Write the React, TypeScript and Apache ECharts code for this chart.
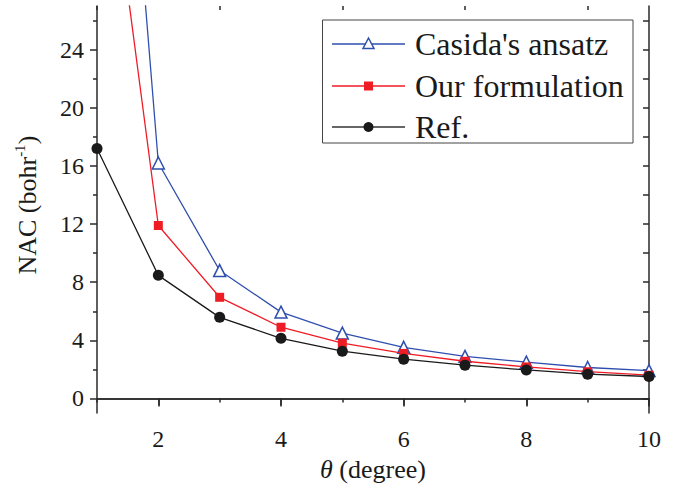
import React, { useEffect, useRef } from "react";
import * as echarts from "echarts";

const thetaValues = [1, 2, 3, 4, 5, 6, 7, 8, 9, 10];
const casidaValues = [68, 16.2, 8.8, 5.94, 4.5, 3.52, 2.9, 2.5, 2.13, 1.92];
const oursValues = [44, 11.9, 6.96, 4.9, 3.8, 3.1, 2.56, 2.17, 1.84, 1.6];
const refValues = [17.2, 8.47, 5.58, 4.14, 3.25, 2.7, 2.29, 1.96, 1.67, 1.51];

const seriesNames = ["Casida's ansatz", "Our formulation", "Ref."];
const xMajorTicks = [2, 4, 6, 8, 10];
const xMinorTicks = [1, 3, 5, 7, 9];
const yMajorTicks = [0, 4, 8, 12, 16, 20, 24];
const yMinorTicks = [2, 6, 10, 14, 18, 22, 26];
const yAllTicks = [0, 2, 4, 6, 8, 10, 12, 14, 16, 18, 20, 22, 24, 26];
const xTitle = "{i|θ}{a| (degree)}";
const yTitle = "{a|NAC (bohr}{s|-1}{a|)}";

const FONT = "Liberation Serif";
const AX = "#2a2a2a";
const BLUE = "#2f4fae";
const RED = "#ee1c25";
const BLACK = "#1a1a1a";
const X_MIN = 1, X_MAX = 10, Y_MIN = -1, Y_MAX = 27;

export default function App() {
  const ref = useRef<HTMLDivElement>(null);
  useEffect(() => {
    if (!ref.current) return;
    const chart = echarts.init(ref.current, null, { renderer: "svg" });
    const pairs = (vals: number[]) => thetaValues.map((t, i) => [t, vals[i]]);
    const axLine = () => ({ show: true, lineStyle: { color: AX, width: 1.5 } });
    const tickStyle = () => ({ color: AX, width: 1.5 });
    const gridRect = { left: 97, right: 27, top: 6, bottom: 74 };

    // legend drawn as graphic elements
    const rowY = [44, 86, 127];
    const lineColors = [BLUE, RED, "#333"];
    const lx1 = 332, lx2 = 405, lxc = 368.5, tx = 415;
    const legendEls: any[] = [
      {
        type: "rect", z: 100,
        shape: { x: 322.5, y: 20, width: 310.5, height: 123 },
        style: { fill: "#fff", stroke: "#444", lineWidth: 1 },
      },
    ];
    seriesNames.forEach((n, i) => {
      legendEls.push({
        type: "line", z: 101,
        shape: { x1: lx1, y1: rowY[i], x2: lx2, y2: rowY[i] },
        style: { stroke: lineColors[i], lineWidth: 1.3 },
      });
      legendEls.push({
        type: "text", z: 101, x: tx, y: rowY[i],
        style: { text: n, fontFamily: FONT, fontSize: 32, fill: BLACK, verticalAlign: "middle", align: "left" },
      });
    });
    legendEls.push({
      type: "polygon", z: 102,
      shape: { points: [[lxc, rowY[0] - 6], [lxc - 5.5, rowY[0] + 4.5], [lxc + 5.5, rowY[0] + 4.5]] },
      style: { fill: "#fff", stroke: BLUE, lineWidth: 1.5 },
    });
    legendEls.push({
      type: "rect", z: 102,
      shape: { x: lxc - 4.5, y: rowY[1] - 4.5, width: 9, height: 9 },
      style: { fill: RED },
    });
    legendEls.push({
      type: "circle", z: 102,
      shape: { cx: lxc, cy: rowY[2], r: 5 },
      style: { fill: BLACK },
    });

    const option: any = {
      animation: false,
      grid: [gridRect, { ...gridRect }],
      graphic: legendEls,
      xAxis: [
        {
          gridIndex: 0, type: "value", position: "bottom", min: X_MIN, max: X_MAX,
          axisLine: axLine(),
          axisTick: { show: true, customValues: xMajorTicks, length: 7, lineStyle: tickStyle() },
          axisLabel: { show: false },
          splitLine: { show: false },
        },
        {
          gridIndex: 0, type: "value", position: "top", min: X_MIN, max: X_MAX,
          axisLine: axLine(),
          axisTick: { show: true, inside: true, customValues: xMajorTicks, length: 8, lineStyle: tickStyle() },
          axisLabel: { show: false },
          splitLine: { show: false },
        },
        {
          gridIndex: 1, type: "value", position: "bottom", min: X_MIN, max: X_MAX,
          axisLine: { show: false },
          axisTick: { show: true, customValues: xMinorTicks, length: 4, lineStyle: tickStyle() },
          axisLabel: { show: false },
          splitLine: { show: false },
        },
        {
          gridIndex: 1, type: "value", position: "top", min: X_MIN, max: X_MAX,
          axisLine: { show: false },
          axisTick: { show: true, inside: true, customValues: xMinorTicks, length: 4, lineStyle: tickStyle() },
          axisLabel: { show: false },
          splitLine: { show: false },
        },
      ],
      yAxis: [
        {
          gridIndex: 0, type: "value", position: "left", min: Y_MIN, max: Y_MAX,
          axisLine: axLine(),
          axisTick: { show: true, customValues: yMajorTicks, length: 7, lineStyle: tickStyle() },
          axisLabel: { show: false },
          splitLine: { show: false },
        },
        {
          gridIndex: 0, type: "value", position: "right", min: Y_MIN, max: Y_MAX,
          axisLine: axLine(),
          axisTick: { show: true, inside: true, customValues: yAllTicks, length: 6, lineStyle: tickStyle() },
          axisLabel: { show: false },
          splitLine: { show: false },
        },
        {
          gridIndex: 1, type: "value", position: "left", min: Y_MIN, max: Y_MAX,
          axisLine: { show: false },
          axisTick: { show: true, customValues: yMinorTicks, length: 4, lineStyle: tickStyle() },
          axisLabel: { show: false },
          splitLine: { show: false },
        },
      ],
      series: [
        {
          name: seriesNames[0], type: "line", xAxisIndex: 0, yAxisIndex: 0, data: pairs(casidaValues),
          symbol: "triangle", symbolSize: 12, clip: true,
          lineStyle: { color: BLUE, width: 1.3 },
          itemStyle: { color: "#ffffff", borderColor: BLUE, borderWidth: 1.5 },
          z: 2,
        },
        {
          name: seriesNames[1], type: "line", xAxisIndex: 0, yAxisIndex: 0, data: pairs(oursValues),
          symbol: "rect", symbolSize: 9, clip: true,
          lineStyle: { color: RED, width: 1.3 },
          itemStyle: { color: RED },
          z: 3,
        },
        {
          name: seriesNames[2], type: "line", xAxisIndex: 0, yAxisIndex: 0, data: pairs(refValues),
          symbol: "circle", symbolSize: 11, clip: true,
          lineStyle: { color: BLACK, width: 1.3 },
          itemStyle: { color: BLACK },
          z: 4,
        },
      ],
    };
    chart.setOption(option);

    // Tick labels and axis titles placed through the chart's own scales
    const toPx = (x: number, y: number) =>
      chart.convertToPixel({ xAxisIndex: 0, yAxisIndex: 0 } as any, [x, y]) as number[];
    const labelEls: any[] = [];
    yMajorTicks.forEach((v) => {
      const p = toPx(X_MIN, v);
      labelEls.push({
        type: "text", z: 50, x: p[0] - 13, y: p[1],
        style: { text: String(v), fontFamily: FONT, fontSize: 24, fill: BLACK, align: "right", verticalAlign: "middle" },
      });
    });
    xMajorTicks.forEach((v) => {
      const p = toPx(v, Y_MIN);
      labelEls.push({
        type: "text", z: 50, x: p[0], y: p[1] + 14,
        style: { text: String(v), fontFamily: FONT, fontSize: 24, fill: BLACK, align: "center", verticalAlign: "top" },
      });
    });
    const xc = toPx((X_MIN + X_MAX) / 2, Y_MIN);
    labelEls.push({
      type: "text", z: 50, x: xc[0], y: xc[1] + 56,
      style: {
        text: xTitle, align: "center", verticalAlign: "middle", fill: BLACK,
        fontFamily: FONT, fontSize: 26,
        rich: {
          i: { fontFamily: FONT, fontSize: 26, fontStyle: "italic", fill: BLACK },
          a: { fontFamily: FONT, fontSize: 26, fill: BLACK },
        },
      },
    });
    const yc = toPx(X_MIN, 13.3);
    labelEls.push({
      type: "text", z: 50, x: yc[0] - 70, y: yc[1], rotation: Math.PI / 2,
      style: {
        text: yTitle, align: "center", verticalAlign: "middle", fill: BLACK,
        fontFamily: FONT, fontSize: 26,
        rich: {
          a: { fontFamily: FONT, fontSize: 26, fill: BLACK, lineHeight: 30 },
          s: { fontFamily: FONT, fontSize: 15, fill: BLACK, lineHeight: 16, verticalAlign: "top" },
        },
      },
    });
    chart.setOption({ graphic: [...legendEls, ...labelEls] } as any, { replaceMerge: ["graphic"] } as any);

    return () => chart.dispose();
  }, []);
  return (
    <div
      ref={ref}
      style={{ position: "fixed", left: 0, top: 0, width: 676, height: 487, background: "#fff" }}
    />
  );
}
